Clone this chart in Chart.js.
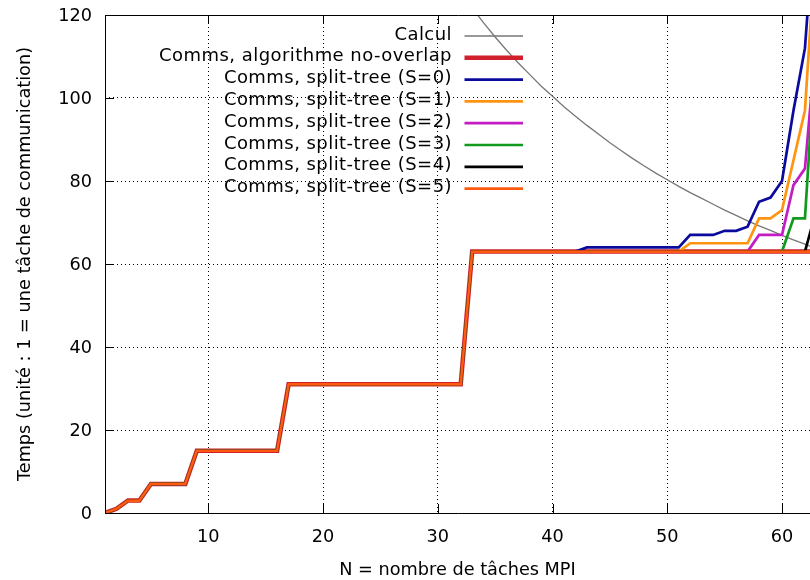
<!DOCTYPE html>
<html>
<head>
<meta charset="utf-8">
<script src="https://cdn.jsdelivr.net/npm/chart.js@4"></script>
<style>
  html, body { margin: 0; padding: 0; background: #fff; }
  canvas { display: block; }
</style>
</head>
<body>
<canvas id="graphe" width="810" height="580"></canvas>
<script>
// ---------------- DONNEES ----------------

// N = nombre de tâches MPI
const taches = [1,2,3,4,5,6,7,8,9,10,11,12,13,14,15,16,17,18,19,20,21,22,23,24,25,26,27,28,29,30,31,32,
    33,34,35,36,37,38,39,40,41,42,43,44,45,46,47,48,49,50,51,52,53,54,55,56,57,58,59,60,61,62,63];

// début commun à toutes les courbes de communication (N = 1..32)
const debut = [0,1,3,3,7,7,7,7,15,15,15,15,15,15,15,15,
    31,31,31,31,31,31,31,31,31,31,31,31,31,31,31,31];

// N = 33..63
const finNoOverlap = [63,63,63,63,63,63,63,63,63,63,63,63,63,63,63,63,63,63,63,63,63,63,63,63,63,63,63,63,63,63,63];
const finS0 = [63,63,63,63,63,63,63,63,63,63,64,64,64,64,64,64,64,64,64,67,67,67,68,68,69,75,76,80,97,112,150];
const finS1 = [63,63,63,63,63,63,63,63,63,63,63,63,63,63,63,63,63,63,63,65,65,65,65,65,65,71,71,73,85,97,140];
const finS2 = [63,63,63,63,63,63,63,63,63,63,63,63,63,63,63,63,63,63,63,63,63,63,63,63,63,67,67,67,79,83,115];
const finS3 = [63,63,63,63,63,63,63,63,63,63,63,63,63,63,63,63,63,63,63,63,63,63,63,63,63,63,63,63,71,71,115];
const finS4 = [63,63,63,63,63,63,63,63,63,63,63,63,63,63,63,63,63,63,63,63,63,63,63,63,63,63,63,63,63,63,73];
const finS5 = [63,63,63,63,63,63,63,63,63,63,63,63,63,63,63,63,63,63,63,63,63,63,63,63,63,63,63,63,63,63,63];

// courbe "Calcul" (N = 30..63)
const calculN = [30,31,32,33,34,35,36,37,38,39,40,41,42,43,44,45,46,47,48,49,50,51,52,53,54,55,56,57,58,59,60,61,62,63];
const calcul = [133.8,129.5,125.5,121.7,118.1,114.7,111.5,108.5,105.7,102.9,100.4,97.9,95.6,93.4,91.3,89.2,87.3,
    85.4,83.6,81.9,80.3,78.7,77.2,75.8,74.4,73.0,71.7,70.4,69.2,68.1,66.9,65.8,64.8,63.7];

const xTicks = [10,20,30,40,50,60];
const yTicks = [0,20,40,60,80,100,120];

const FONT = '17.7px "DejaVu Sans"';

// ---------------- GRAPHE ----------------

const points = (xs, ys) => xs.map((x, i) => ({ x: x, y: ys[i] }));
const serie = (fin) => points(taches, debut.concat(fin));

const datasets = [
    { label: 'Calcul', data: points(calculN, calcul), borderColor: '#777777', borderWidth: 1.3 },
    { label: 'Comms, algorithme no-overlap', data: serie(finNoOverlap), borderColor: '#d0202c', borderWidth: 4.5 },
    { label: 'Comms, split-tree (S=0)', data: serie(finS0), borderColor: '#0a0a9c', borderWidth: 2.7 },
    { label: 'Comms, split-tree (S=1)', data: serie(finS1), borderColor: '#ff9410', borderWidth: 2.7 },
    { label: 'Comms, split-tree (S=2)', data: serie(finS2), borderColor: '#c41cc4', borderWidth: 2.7 },
    { label: 'Comms, split-tree (S=3)', data: serie(finS3), borderColor: '#129a1e', borderWidth: 2.7 },
    { label: 'Comms, split-tree (S=4)', data: serie(finS4), borderColor: '#000000', borderWidth: 2.7 },
    { label: 'Comms, split-tree (S=5)', data: serie(finS5), borderColor: '#ff5a10', borderWidth: 2.7 }
];
datasets.forEach((d, i) => {
    d.order = datasets.length - i; // les dernières courbes dessus
    d.pointRadius = 0;
    d.tension = 0;
    d.fill = false;
});

// bordure, graduations, textes et légende façon gnuplot
const habillage = {
    id: 'habillage',
    afterDraw(chart) {
        const ctx = chart.ctx;
        const a = chart.chartArea;
        const sx = chart.scales.x;
        const sy = chart.scales.y;
        ctx.save();

        // bordure
        ctx.strokeStyle = '#000';
        ctx.lineWidth = 1;
        ctx.beginPath();
        ctx.moveTo(Math.round(a.right) + 2, Math.round(a.top) + 0.5);
        ctx.lineTo(Math.round(a.left) + 0.5, Math.round(a.top) + 0.5);
        ctx.lineTo(Math.round(a.left) + 0.5, Math.round(a.bottom) + 0.5);
        ctx.lineTo(Math.round(a.right) + 2, Math.round(a.bottom) + 0.5);
        ctx.stroke();

        // graduations
        ctx.beginPath();
        xTicks.forEach(v => {
            const px = Math.round(sx.getPixelForValue(v)) + 0.5;
            ctx.moveTo(px, a.bottom); ctx.lineTo(px, a.bottom - 9);
            ctx.moveTo(px, a.top); ctx.lineTo(px, a.top + 9);
        });
        yTicks.forEach(v => {
            const py = Math.round(sy.getPixelForValue(v)) + 0.5;
            ctx.moveTo(a.left, py); ctx.lineTo(a.left + 9, py);
        });
        ctx.stroke();

        // étiquettes
        ctx.fillStyle = '#000';
        ctx.font = FONT;
        ctx.textAlign = 'center';
        ctx.textBaseline = 'alphabetic';
        xTicks.forEach(v => ctx.fillText(String(v), sx.getPixelForValue(v), 541.5));
        ctx.textAlign = 'right';
        ctx.textBaseline = 'middle';
        yTicks.forEach(v => ctx.fillText(String(v), 92, sy.getPixelForValue(v) + 1));

        // titres des axes
        ctx.textAlign = 'center';
        ctx.textBaseline = 'alphabetic';
        ctx.fillText('N = nombre de tâches MPI', (a.left + a.right) / 2, 575);
        ctx.save();
        ctx.translate(30, (a.top + a.bottom) / 2);
        ctx.rotate(-Math.PI / 2);
        ctx.fillText('Temps (unité : 1 = une tâche de communication)', 0, 0);
        ctx.restore();

        // légende
        ctx.textAlign = 'right';
        ctx.textBaseline = 'middle';
        ctx.font = '18px "DejaVu Sans"';
        ctx.letterSpacing = '0.45px';
        datasets.forEach((d, i) => {
            const y = 35 + i * 21.8;
            ctx.fillStyle = '#000';
            ctx.fillText(d.label, 452, y);
            ctx.strokeStyle = d.borderColor;
            ctx.lineWidth = d.borderWidth;
            ctx.beginPath();
            ctx.moveTo(464.5, y + 1);
            ctx.lineTo(523, y + 1);
            ctx.stroke();
        });

        ctx.restore();
    }
};

new Chart(document.getElementById('graphe'), {
    type: 'line',
    data: { datasets: datasets },
    options: {
        responsive: false,
        animation: false,
        devicePixelRatio: 1,
        layout: { padding: { top: 15, right: 0, left: 0, bottom: 0 } },
        plugins: { legend: { display: false }, tooltip: { enabled: false } },
        scales: {
            x: {
                type: 'linear',
                min: 1,
                max: 62.44,
                afterBuildTicks: (scale) => { scale.ticks = xTicks.map(v => ({ value: v })); },
                afterFit: (scale) => { scale.height = 67; },
                ticks: { display: false },
                grid: { color: '#000', lineWidth: 1, drawTicks: false },
                border: { display: false, dash: [1, 3] }
            },
            y: {
                min: 0,
                max: 120,
                afterBuildTicks: (scale) => { scale.ticks = yTicks.map(v => ({ value: v })); },
                afterFit: (scale) => { scale.width = 105; },
                ticks: { display: false },
                grid: { color: '#000', lineWidth: 1, drawTicks: false },
                border: { display: false, dash: [1, 3] }
            }
        }
    },
    plugins: [habillage]
});
</script>
</body>
</html>
